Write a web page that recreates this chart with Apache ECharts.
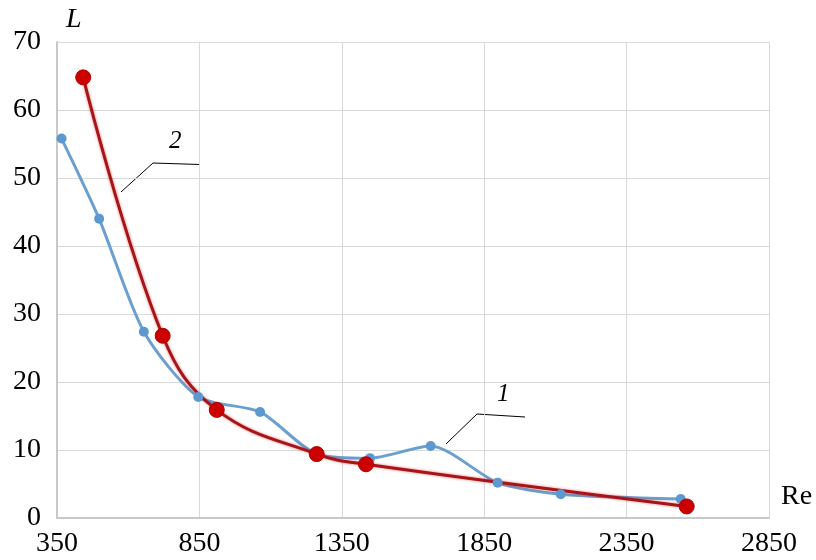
<!DOCTYPE html>
<html><head><meta charset="utf-8">
<script src="https://cdn.jsdelivr.net/npm/echarts@6/dist/echarts.min.js"></script>
<style>html,body{margin:0;padding:0;background:#fff}#c{width:816px;height:560px}</style>
</head><body><div id="c"></div>
<script>
// Curve 1 (blue)
const reBlue = [366, 498, 655, 846, 1063, 1262, 1449, 1662, 1897, 2119, 2540];
const lBlue  = [55.8, 44.0, 27.4, 17.8, 15.6, 9.4, 8.8, 10.6, 5.2, 3.5, 2.8];
// Curve 2 (red)
const reRed = [442, 721, 911, 1262, 1435, 2561];
const lRed  = [64.8, 26.8, 15.9, 9.4, 7.9, 1.7];
// axes
const xMin = 350, xMax = 2850, xStep = 500;
const yMin = 0, yMax = 70, yStep = 10;

const font = 'Liberation Serif';
const zip = (a, b) => a.map((v, i) => [v, b[i]]);

const chart = echarts.init(document.getElementById('c'), null, {renderer: 'canvas'});
chart.setOption({
  animation: false,
  backgroundColor: '#fff',
  grid: {left: 57, right: 47, top: 42, bottom: 42},
  xAxis: {
    type: 'value', min: xMin, max: xMax, interval: xStep,
    axisLine: {show: true, lineStyle: {color: '#c8c8c8', width: 2}},
    axisTick: {show: false},
    splitLine: {show: true, lineStyle: {color: '#d9d9d9', width: 1}},
    axisLabel: {color: '#000', fontFamily: font, fontSize: 28, margin: 12, formatter: v => String(v)}
  },
  yAxis: {
    type: 'value', min: yMin, max: yMax, interval: yStep,
    axisLine: {show: true, lineStyle: {color: '#c8c8c8', width: 2}},
    axisTick: {show: false},
    splitLine: {show: true, lineStyle: {color: '#d9d9d9', width: 1}},
    axisLabel: {color: '#000', fontFamily: font, fontSize: 28, margin: 16, formatter: v => String(v)}
  },
  series: [
    {
      name: '1', type: 'line', smooth: 0.25,
      data: zip(reBlue, lBlue),
      symbol: 'circle', symbolSize: 10,
      lineStyle: {color: '#6a9fd0', width: 3},
      itemStyle: {color: '#5e98d0'}
    },
    {
      name: '2', type: 'line', smooth: 0.4,
      data: zip(reRed, lRed),
      symbol: 'circle', symbolSize: 15,
      lineStyle: {color: '#a5161b', width: 3, shadowColor: 'rgba(230,30,30,0.6)', shadowBlur: 3},
      itemStyle: {color: '#cc0000', borderColor: '#b00000', borderWidth: 1}
    }
  ],
  graphic: [
    {type: 'text', left: 66, top: 6, style: {text: 'L', font: 'italic 28px "Liberation Serif"', fill: '#000'}},
    {type: 'text', left: 781, top: 483, style: {text: 'Re', font: '28px "Liberation Serif"', fill: '#000'}},
    {type: 'polyline', shape: {points: [[121, 192], [153, 163], [200, 164.5]]}, style: {stroke: '#000', lineWidth: 1, fill: null}},
    {type: 'text', left: 169, top: 129, style: {text: '2', font: 'italic 25px "Liberation Serif"', fill: '#000'}},
    {type: 'polyline', shape: {points: [[446, 444], [477, 414], [525, 417]]}, style: {stroke: '#000', lineWidth: 1, fill: null}},
    {type: 'text', left: 497, top: 382, style: {text: '1', font: 'italic 25px "Liberation Serif"', fill: '#000'}}
  ]
});
</script></body></html>
